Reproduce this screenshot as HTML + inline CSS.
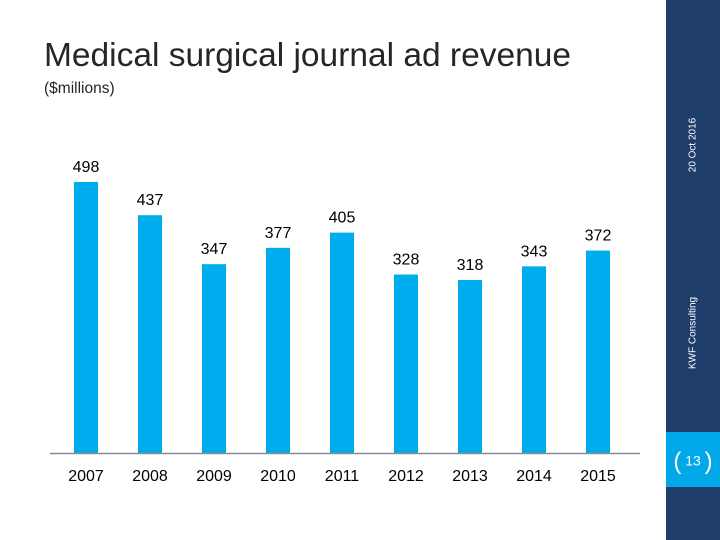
<!DOCTYPE html>
<html><head><meta charset="utf-8"><style>
body{margin:0;width:720px;height:540px;overflow:hidden;background:#fff;font-family:"Liberation Sans",sans-serif;position:relative}
.t{position:absolute;white-space:nowrap}
</style></head><body>
<div class="t" style="left:44px;top:37px;font-size:33.5px;color:#262626">Medical surgical journal ad revenue</div>
<div class="t" style="left:44px;top:80px;font-size:15.5px;color:#262626">($millions)</div>
<div style="position:absolute;left:666px;top:0;width:54px;height:540px;background:#1f3d6b"></div>
<div class="t" style="left:693px;top:145px;font-size:10px;color:#fff;transform:translate(-50%,-50%) rotate(-90deg)">20 Oct 2016</div>
<div class="t" style="left:693px;top:333px;font-size:10px;color:#fff;transform:translate(-50%,-50%) rotate(-90deg)">KWF Consulting</div>
<div style="position:absolute;left:666px;top:432px;width:54px;height:55px;background:#00a8e8"></div>
<div class="t" style="left:669px;top:448px;font-size:14px;color:#fff;width:48px;text-align:center"><span style="font-size:24px;vertical-align:middle;font-weight:100">(</span> 13 <span style="font-size:24px;vertical-align:middle">)</span></div>
<svg id="c" width="666" height="540" style="position:absolute;left:0;top:0"></svg>
<script>
const years=["2007","2008","2009","2010","2011","2012","2013","2014","2015"];
const revenue=[498,437,347,377,405,328,318,343,372];
const svg=document.getElementById('c');
const ns='http://www.w3.org/2000/svg';
const base=453, scale=271/498, x0=86, step=64, bw=24;
function y(v){return base-v*scale;}
function x(i){return x0+i*step;}
const ax=document.createElementNS(ns,'line');


ax.setAttribute('x1',50);ax.setAttribute('x2',640);ax.setAttribute('y1',base+0.5);ax.setAttribute('y2',base+0.5);
ax.setAttribute('stroke','#8c8c8c');ax.setAttribute('stroke-width',1.5);
years.forEach((yr,i)=>{
 const r=document.createElementNS(ns,'rect');
 
 
 r.setAttribute('x',x(i)-bw/2);r.setAttribute('y',y(revenue[i]));
 r.setAttribute('width',bw);r.setAttribute('height',base-y(revenue[i]));
 r.setAttribute('fill','#00aeef');svg.appendChild(r);
 const l=document.createElementNS(ns,'text');
 
 
 l.setAttribute('x',x(i));l.setAttribute('y',y(revenue[i])-10);
 l.setAttribute('text-anchor','middle');l.setAttribute('font-size','16');
 l.setAttribute('font-family','Liberation Sans, sans-serif');
 l.textContent=revenue[i];svg.appendChild(l);
 const t=document.createElementNS(ns,'text');
 
 
 t.setAttribute('x',x(i));t.setAttribute('y',481);
 t.setAttribute('text-anchor','middle');t.setAttribute('font-size','16');
 t.setAttribute('font-family','Liberation Sans, sans-serif');
 t.textContent=yr;svg.appendChild(t);
});
svg.appendChild(ax);
</script>
</body></html>
